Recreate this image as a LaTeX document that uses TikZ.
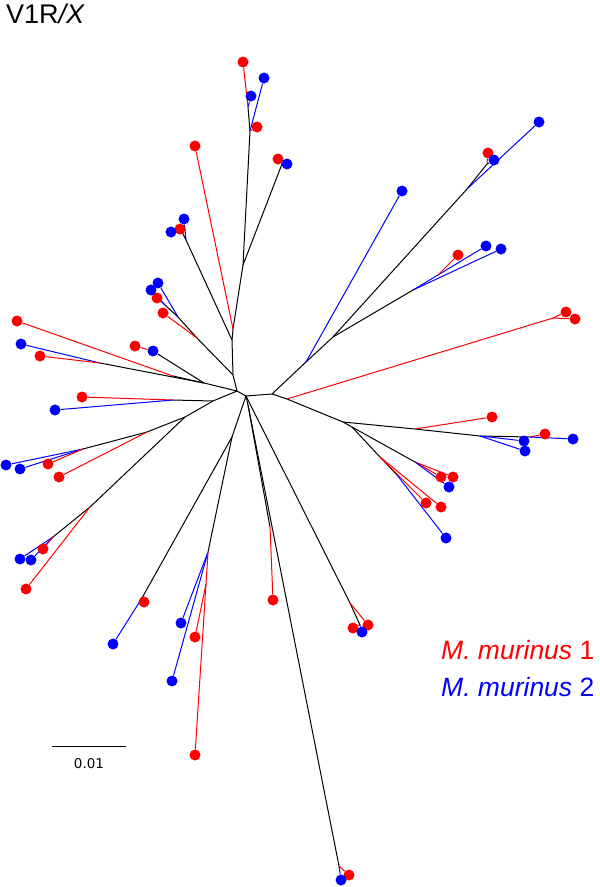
\documentclass[tikz,border=0pt]{standalone}
\usepackage{fontspec}
\setmainfont{Liberation Sans}
\newfontfamily\barfont{DejaVu Sans}
\usetikzlibrary{backgrounds}
\definecolor{mmone}{HTML}{FF0000}
\definecolor{mmtwo}{HTML}{0000FF}

\begin{document}
\begin{tikzpicture}[x=1pt,y=-1pt,
  rdot/.style={circle,fill=mmone,inner sep=0pt,minimum size=11pt},
  bdot/.style={circle,fill=mmtwo,inner sep=0pt,minimum size=11pt},
  blk/.style={black,line width=1pt},
  rln/.style={mmone,line width=1pt},
  bln/.style={mmtwo,line width=1pt}]
% unrooted tree, 1pt = 1px of the figure
\useasboundingbox (0,0) rectangle (600,887);
\node[anchor=north west,inner sep=0pt,font=\fontsize{27}{30}\selectfont] (title) at (6,4) {V1R\textit{/X}};

\foreach \name/\x/\y in {A/237/391, B/246/396, C/272/394, P/233/375, Q/232/340, R/233/329,
    S/243/265, T/250/131, U/248/107, S1/282/164, V/186/240, W/181/230,
    PL1/197/338, PL2/178/317, PL3/165/305, K/204/383, KL/173/376, L1/100/363,
    F/213/401, H/173/400, M/185/417, M1/147/432, M2/83/449, M3/90/507, M4/53/537,
    O/232/437, O1/142/598, O2/208/552, O3/206/584, N/248/405, N1/270/527, N2/339/866,
    B1/350/603, B2/360/625, X/306/362, Y/333/337, Y1/413/290, Y2/438/275,
    Z/467/189, Z1/487/164, CR/287/399, CR2/553/318, D/343/422, DR/415/429,
    D1/480/436, D3/530/437, D2/352/427, D4/415/462, D5/380/457, D6/397/475}
  \coordinate (\name) at (\x,\y);

\foreach \name/\x/\y in {r1/243/62, r2/257/127, r3/195/146, r4/278/159, r5/180/229,
    r6/157/298, r7/163/313, r8/17/321, r9/40/356, r10/135/346, r11/82/397,
    r12/48/464, r13/59/477, r14/43/549, r15/26/589, r16/144/602, r17/195/637,
    r18/195/755, r19/273/600, r20/353/628, r21/368/625, r22/349/875,
    r23/488/153, r24/458/255, r25/566/312, r26/575/319, r27/492/417,
    r28/545/434, r29/441/477, r30/453/477, r31/426/503, r32/441/507}
  \node[rdot] (\name) at (\x,\y) {};
\foreach \name/\x/\y in {b1/264/78, b2/251/96, b3/287/164, b4/184/219, b5/171/232,
    b6/158/283, b7/151/290, b8/21/344, b9/153/351, b10/55/410, b11/6/465,
    b12/20/469, b13/20/559, b14/31/560, b15/113/644, b16/181/623, b17/172/681,
    b18/362/632, b19/341/880, b20/539/122, b21/494/160, b22/402/191,
    b23/486/246, b24/501/249, b25/573/439, b26/524/441, b27/525/451,
    b28/449/487, b29/446/538}
  \node[bdot] (\name) at (\x,\y) {};

\begin{scope}[on background layer]
  % upper trunk
  \draw[blk] (A) -- (P) -- (Q) -- (R) -- (S) -- (T) -- (U);
  \draw[rln] (U) -- (r1);
  \draw[bln] (U) -- (b2);
  \draw[bln] (T) -- (b1);
  \draw[rln] (T) -- (r2);
  \draw[rln] (R) -- (r3);
  \draw[blk] (S) -- (S1);
  \draw[rln] (S1) -- (r4);
  \draw[bln] (S1) -- (b3);
  \draw[blk] (Q) -- (V) -- (W);
  \draw[bln] (V) -- (b4);
  \draw[rln] (W) -- (r5);
  \draw[bln] (W) -- (b5);
  \draw[blk] (P) -- (PL1) -- (PL2) -- (PL3);
  \draw[rln] (PL1) -- (r7);
  \draw[bln] (PL2) -- (b6);
  \draw[rln] (PL3) -- (r6);
  \draw[bln] (PL3) -- (b7);
  % left
  \draw[blk] (A) -- (K) -- (KL);
  \draw[rln] (KL) -- (r8);
  \draw[blk] (K) -- (L1);
  \draw[bln] (L1) -- (b8);
  \draw[rln] (L1) -- (r9);
  \draw[blk] (K) -- (b9);
  \draw[rln] (r10) -- (b9);
  \draw[blk] (A) -- (F) -- (M);
  \draw[blk] (F) -- (H);
  \draw[rln] (H) -- (r11);
  \draw[bln] (H) -- (b10);
  \draw[blk] (M) -- (M1) -- (M2);
  \draw[rln] (M1) -- (r13);
  \draw[bln] (M2) -- (b11);
  \draw[bln] (M2) -- (b12);
  \draw[rln] (M2) -- (r12);
  \draw[blk] (M) -- (M3) -- (M4);
  \draw[rln] (M3) -- (r15);
  \draw[bln] (M4) -- (b13);
  \draw[bln] (M4) -- (b14);
  \draw[rln] (M4) -- (r14);
  % bottom
  \draw[blk] (A) -- (B);
  \draw[blk] (B) -- (O) -- (O1);
  \draw[rln] (O1) -- (r16);
  \draw[bln] (O1) -- (b15);
  \draw[blk] (O) -- (O2);
  \draw[bln] (O2) -- (b16);
  \draw[bln] (O2) -- (b17);
  \draw[rln] (O2) -- (O3) -- (r18);
  \draw[rln] (O3) -- (r17);
  \draw[blk] (B) -- (N) -- (N1);
  \draw[rln] (N1) -- (r19);
  \draw[blk] (N) -- (N2);
  \draw[rln] (N2) -- (r22);
  \draw[bln] (N2) -- (b19);
  \draw[blk] (B) -- (B1) -- (B2);
  \draw[rln] (B1) -- (r21);
  \draw[rln] (B2) -- (r20);
  \draw[bln] (B2) -- (b18);
  % right
  \draw[blk] (B) -- (C) -- (X) -- (Y) -- (Z) -- (Z1);
  \draw[bln] (X) -- (b22);
  \draw[blk] (Y) -- (Y1);
  \draw[bln] (Y1) -- (Y2) -- (b23);
  \draw[rln] (Y2) -- (r24);
  \draw[bln] (Y1) -- (b24);
  \draw[bln] (Z) -- (b20);
  \draw[rln] (Z1) -- (r23);
  \draw[bln] (Z1) -- (b21);
  \draw[blk] (C) -- (CR) -- (D);
  \draw[rln] (CR) -- (CR2);
  \draw[rln] (CR2) -- (r25);
  \draw[rln] (CR2) -- (r26);
  \draw[blk] (D) -- (DR) -- (D1) -- (D3);
  \draw[rln] (DR) -- (r27);
  \draw[rln] (D3) -- (r28);
  \draw[bln] (D3) -- (b25);
  \draw[bln] (D1) -- (b26);
  \draw[bln] (D1) -- (b27);
  \draw[blk] (D) -- (D2) -- (D4);
  \draw[rln] (D4) -- (r29);
  \draw[rln] (D4) -- (r30);
  \draw[bln] (D4) -- (b28);
  \draw[blk] (D2) -- (D5) -- (D6);
  \draw[rln] (D5) -- (r31);
  \draw[rln] (D5) -- (r32);
  \draw[bln] (D6) -- (b29);
\end{scope}

% scale bar
\coordinate (sbl) at (52,746);
\coordinate (sbr) at (126,746);
\draw[blk] (sbl) -- (sbr);
\node[font={\barfont\fontsize{13.5}{16}\selectfont}] (sblab) at (89,764) {0.01};

% legend
\node[anchor=west,inner sep=0pt,text=mmone,font=\fontsize{26.5}{30}\selectfont] (leg1) at (441,650) {\textit{M. murinus} 1};
\node[anchor=west,inner sep=0pt,text=mmtwo,font=\fontsize{26.5}{30}\selectfont] (leg2) at (441,687) {\textit{M. murinus} 2};
\end{tikzpicture}
\end{document}
